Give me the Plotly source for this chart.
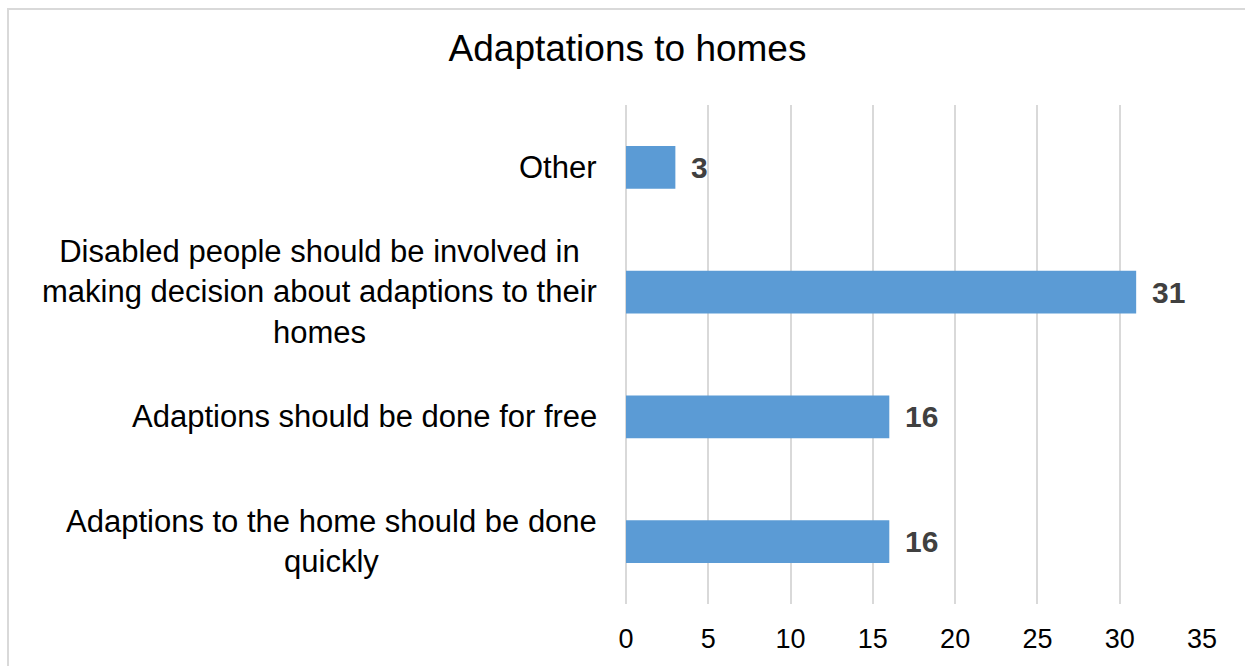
import plotly.graph_objects as go

# Survey responses, listed top to bottom as they appear on the chart
categories = [
    "Other",
    "Disabled people should be involved in<br>making decision about adaptions to their<br>homes",
    "Adaptions should be done for free",
    "Adaptions to the home should be done<br>quickly",
]
counts = [3, 31, 16, 16]
x_ticks = [0, 5, 10, 15, 20, 25, 30, 35]

BAR_COLOR = "#5B9BD5"
GRID_COLOR = "#D9D9D9"
FONT = "Liberation Sans, Arial, sans-serif"

W, H = 1245, 666
L, R, T, B = 626, 43, 105, 62
plot_w = W - L - R
plot_h = H - T - B

fig = go.Figure()
fig.add_trace(go.Bar(
    x=counts,
    y=categories,
    orientation="h",
    marker=dict(color=BAR_COLOR, line=dict(width=0)),
    hoverinfo="skip",
))

# Value labels next to each bar
for cat, val in zip(categories, counts):
    fig.add_annotation(
        x=val, y=cat, xref="x", yref="y",
        text=f"<b>{val}</b>", showarrow=False,
        xanchor="left", yanchor="middle", xshift=14,
        font=dict(family=FONT, size=30, color="#404040"),
    )

# Category labels, centred line by line to the left of the plot
for cat in categories:
    fig.add_annotation(
        x=0, y=cat, xref="paper", yref="y",
        text=cat, showarrow=False,
        xanchor="right", yanchor="middle", align="center", xshift=-27,
        font=dict(family=FONT, size=31, color="#000000"),
    )

# Light frame around the chart area
fig.add_shape(
    type="rect", xref="paper", yref="paper",
    x0=(8 - L) / plot_w, x1=(W + 20 - L) / plot_w,
    y0=-(H + 20 - (T + plot_h)) / plot_h, y1=(T + plot_h - 9) / plot_h,
    line=dict(color=GRID_COLOR, width=2), fillcolor="rgba(0,0,0,0)",
    layer="below",
)

fig.update_layout(
    width=W, height=H,
    margin=dict(l=L, r=R, t=T, b=B, pad=0),
    paper_bgcolor="white", plot_bgcolor="white",
    bargap=0.656,
    showlegend=False,
    title=dict(
        text="Adaptations to homes",
        x=627.5 / W, xref="container", xanchor="center",
        y=1 - 48 / H, yref="container", yanchor="middle",
        font=dict(family=FONT, size=37, color="#000000"),
    ),
    xaxis=dict(
        range=[0, 35], tickvals=x_ticks, ticktext=[str(t) for t in x_ticks],
        showgrid=True, gridcolor=GRID_COLOR, gridwidth=1.5,
        zeroline=True, zerolinecolor=GRID_COLOR, zerolinewidth=1.5,
        showline=False, ticks="", ticklabelstandoff=16,
        tickfont=dict(family=FONT, size=27, color="#000000"),
        fixedrange=True,
    ),
    yaxis=dict(
        autorange="reversed", showticklabels=False, showgrid=False,
        zeroline=False, showline=False, ticks="", fixedrange=True,
    ),
)

fig.write_html("out.html")
